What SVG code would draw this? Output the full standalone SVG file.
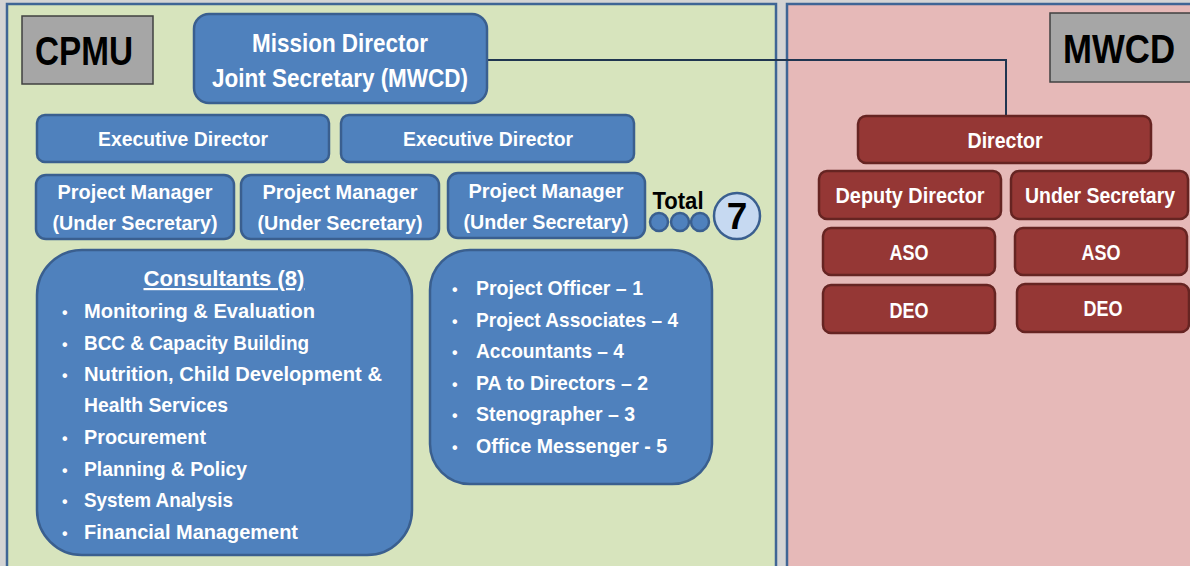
<svg xmlns="http://www.w3.org/2000/svg" width="1190" height="566" viewBox="0 0 1190 566">
<style>
text{font-family:"Liberation Sans",Arial,sans-serif;font-weight:bold}
.b{fill:#4f81bd;stroke:#3a5f8f;stroke-width:2.5}
.r{fill:#953735;stroke:#662422;stroke-width:2.5}
.w{fill:#fff}
.c{text-anchor:middle}
.lbl{fill:#a6a6a6;stroke:#404040;stroke-width:1.5}
</style>
<rect x="0" y="0" width="1190" height="566" fill="#d4d4d4"/>
<g id="cpmu-panel">
<rect x="7" y="4" width="769" height="566" fill="#d7e4bd" stroke="#3f6595" stroke-width="2.5"/>
<rect class="lbl" x="22" y="16" width="131" height="68"/>
<text x="84" y="65" class="c" font-size="40" fill="#000" textLength="98" lengthAdjust="spacingAndGlyphs">CPMU</text>
</g>
<g id="mwcd-panel">
<rect x="787" y="4" width="410" height="566" fill="#e6b9b8" stroke="#3f6595" stroke-width="2.5"/>
<rect class="lbl" x="1050" y="13" width="150" height="69"/>
<text x="1119" y="63" class="c" font-size="40" fill="#000" textLength="112" lengthAdjust="spacingAndGlyphs">MWCD</text>
</g>
<g id="connectors">
<polyline points="487,60 1006,60 1006,116" fill="none" stroke="#1f3550" stroke-width="2"/>
</g>
<g id="mission-director">
<rect class="b" x="194" y="14" width="293" height="89" rx="15"/>
<text class="w c" x="340" y="52" font-size="25" textLength="176" lengthAdjust="spacingAndGlyphs">Mission Director</text>
<text class="w c" x="340" y="87" font-size="25" textLength="256" lengthAdjust="spacingAndGlyphs">Joint Secretary (MWCD)</text>
</g>
<g id="exec-director-1">
<rect class="b" x="37" y="115" width="292" height="47" rx="8"/>
<text class="w c" x="183" y="146" font-size="21" textLength="170" lengthAdjust="spacingAndGlyphs">Executive Director</text>
</g>
<g id="exec-director-2">
<rect class="b" x="341" y="115" width="293" height="47" rx="8"/>
<text class="w c" x="488" y="146" font-size="21" textLength="170" lengthAdjust="spacingAndGlyphs">Executive Director</text>
</g>
<g id="pm-1">
<rect class="b" x="36" y="175" width="198" height="64" rx="10"/>
<text class="w c" x="135" y="199" font-size="21" textLength="155" lengthAdjust="spacingAndGlyphs">Project Manager</text>
<text class="w c" x="135" y="230" font-size="21" textLength="165" lengthAdjust="spacingAndGlyphs">(Under Secretary)</text>
</g>
<g id="pm-2">
<rect class="b" x="241" y="175" width="198" height="64" rx="10"/>
<text class="w c" x="340" y="199" font-size="21" textLength="155" lengthAdjust="spacingAndGlyphs">Project Manager</text>
<text class="w c" x="340" y="230" font-size="21" textLength="165" lengthAdjust="spacingAndGlyphs">(Under Secretary)</text>
</g>
<g id="pm-3">
<rect class="b" x="448" y="173" width="197" height="65" rx="10"/>
<text class="w c" x="546" y="198" font-size="21" textLength="155" lengthAdjust="spacingAndGlyphs">Project Manager</text>
<text class="w c" x="546" y="229" font-size="21" textLength="165" lengthAdjust="spacingAndGlyphs">(Under Secretary)</text>
</g>
<g id="total">
<text x="678" y="209" class="c" font-size="23" fill="#000" textLength="51" lengthAdjust="spacingAndGlyphs">Total</text>
<circle class="b" cx="659" cy="222" r="9" stroke-width="2"/>
<circle class="b" cx="680" cy="222" r="9" stroke-width="2"/>
<circle class="b" cx="700" cy="222" r="9" stroke-width="2"/>
<circle cx="737" cy="216" r="23" fill="#c6d9f1" stroke="#3a5f8f" stroke-width="2.5"/>
<text x="737" y="229" class="c" font-size="37" fill="#000">7</text>
</g>
<g id="consultants">
<rect class="b" x="37" y="250" width="375" height="305" rx="45"/>
<text class="w c" x="224" y="286" font-size="22" text-decoration="underline" textLength="161" lengthAdjust="spacingAndGlyphs">Consultants (8)</text>
<g class="w" font-size="21">
<text x="62" y="318" font-size="16">•</text><text x="84" y="318" textLength="231" lengthAdjust="spacingAndGlyphs">Monitoring &amp; Evaluation</text>
<text x="62" y="350" font-size="16">•</text><text x="84" y="350" textLength="225" lengthAdjust="spacingAndGlyphs">BCC &amp; Capacity Building</text>
<text x="62" y="381" font-size="16">•</text><text x="84" y="381" textLength="298" lengthAdjust="spacingAndGlyphs">Nutrition, Child Development &amp;</text>
<text x="84" y="412" textLength="144" lengthAdjust="spacingAndGlyphs">Health Services</text>
<text x="62" y="444" font-size="16">•</text><text x="84" y="444" textLength="122" lengthAdjust="spacingAndGlyphs">Procurement</text>
<text x="62" y="476" font-size="16">•</text><text x="84" y="476" textLength="163" lengthAdjust="spacingAndGlyphs">Planning &amp; Policy</text>
<text x="62" y="507" font-size="16">•</text><text x="84" y="507" textLength="149" lengthAdjust="spacingAndGlyphs">System Analysis</text>
<text x="62" y="539" font-size="16">•</text><text x="84" y="539" textLength="214" lengthAdjust="spacingAndGlyphs">Financial Management</text>
</g>
</g>
<g id="staff">
<rect class="b" x="430" y="250" width="282" height="234" rx="40"/>
<g class="w" font-size="21">
<text x="452" y="295" font-size="16">•</text><text x="476" y="295" textLength="167" lengthAdjust="spacingAndGlyphs">Project Officer – 1</text>
<text x="452" y="327" font-size="16">•</text><text x="476" y="327" textLength="202" lengthAdjust="spacingAndGlyphs">Project Associates – 4</text>
<text x="452" y="358" font-size="16">•</text><text x="476" y="358" textLength="148" lengthAdjust="spacingAndGlyphs">Accountants – 4</text>
<text x="452" y="390" font-size="16">•</text><text x="476" y="390" textLength="172" lengthAdjust="spacingAndGlyphs">PA to Directors – 2</text>
<text x="452" y="421" font-size="16">•</text><text x="476" y="421" textLength="159" lengthAdjust="spacingAndGlyphs">Stenographer – 3</text>
<text x="452" y="453" font-size="16">•</text><text x="476" y="453" textLength="191" lengthAdjust="spacingAndGlyphs">Office Messenger - 5</text>
</g>
</g>
<g id="director">
<rect class="r" x="858" y="116" width="293" height="47" rx="8"/>
<text class="w c" x="1005" y="148" font-size="22" textLength="75" lengthAdjust="spacingAndGlyphs">Director</text>
</g>
<g id="deputy-director">
<rect class="r" x="819" y="171" width="182" height="48" rx="8"/>
<text class="w c" x="910" y="203" font-size="22" textLength="149" lengthAdjust="spacingAndGlyphs">Deputy Director</text>
</g>
<g id="under-secretary">
<rect class="r" x="1011" y="171" width="177" height="48" rx="8"/>
<text class="w c" x="1100" y="203" font-size="22" textLength="150" lengthAdjust="spacingAndGlyphs">Under Secretary</text>
</g>
<g id="aso-1">
<rect class="r" x="823" y="228" width="172" height="47" rx="8"/>
<text class="w c" x="909" y="260" font-size="22" textLength="39" lengthAdjust="spacingAndGlyphs">ASO</text>
</g>
<g id="aso-2">
<rect class="r" x="1015" y="228" width="172" height="47" rx="8"/>
<text class="w c" x="1101" y="260" font-size="22" textLength="39" lengthAdjust="spacingAndGlyphs">ASO</text>
</g>
<g id="deo-1">
<rect class="r" x="823" y="285" width="172" height="48" rx="8"/>
<text class="w c" x="909" y="318" font-size="22" textLength="39" lengthAdjust="spacingAndGlyphs">DEO</text>
</g>
<g id="deo-2">
<rect class="r" x="1017" y="284" width="172" height="48" rx="8"/>
<text class="w c" x="1103" y="316" font-size="22" textLength="39" lengthAdjust="spacingAndGlyphs">DEO</text>
</g>
</svg>
